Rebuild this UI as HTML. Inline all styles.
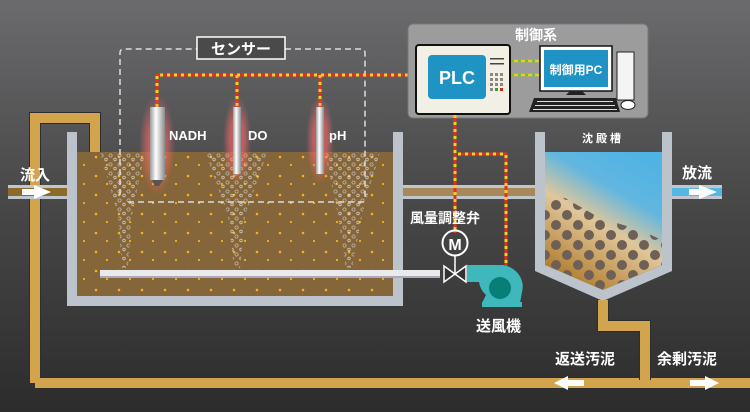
<!DOCTYPE html>
<html><head><meta charset="utf-8"><style>
html,body{margin:0;padding:0;width:750px;height:412px;overflow:hidden;background:#333}
svg{display:block}
text{font-family:"Liberation Sans","Noto Sans CJK JP",sans-serif;font-weight:bold;fill:#fff}
</style></head><body>
<svg width="750" height="412" viewBox="0 0 750 412" xmlns="http://www.w3.org/2000/svg">
<defs>
<linearGradient id="bg" x1="0" y1="0" x2="0" y2="1"><stop offset="0" stop-color="#6b6b6d"/><stop offset="0.45" stop-color="#4a4a4b"/><stop offset="1" stop-color="#2c2c2c"/></linearGradient>
<linearGradient id="clar" x1="0.8" y1="0" x2="0.3" y2="1"><stop offset="0" stop-color="#4fb3e3"/><stop offset="0.3" stop-color="#62b6e0"/><stop offset="0.55" stop-color="#e0c79a"/><stop offset="1" stop-color="#b07a2a"/></linearGradient>
<linearGradient id="rod" x1="0" y1="0" x2="1" y2="0"><stop offset="0" stop-color="#9a9a9a"/><stop offset="0.4" stop-color="#ffffff"/><stop offset="1" stop-color="#8a8a8a"/></linearGradient>
<radialGradient id="glow"><stop offset="0.5" stop-color="#ff6a6a" stop-opacity="0.6"/><stop offset="1" stop-color="#ff6a6a" stop-opacity="0"/></radialGradient>
<pattern id="dots" width="23" height="19" patternUnits="userSpaceOnUse"><circle cx="4" cy="5" r="1.3" fill="#f5b21c"/><circle cx="15" cy="13" r="1.1" fill="#f5b21c"/></pattern>
<pattern id="bub" width="9" height="9" patternUnits="userSpaceOnUse"><circle cx="2.5" cy="2.5" r="1.6" fill="none" stroke="#d8d8d8" stroke-width="0.8"/><circle cx="7" cy="6.5" r="1.3" fill="none" stroke="#eee" stroke-width="0.8"/></pattern>
<pattern id="sl" width="22" height="20" patternUnits="userSpaceOnUse"><circle cx="6" cy="5" r="5" fill="#6e6056"/><circle cx="17" cy="15" r="5" fill="#6e6056"/></pattern>
</defs>
<rect width="750" height="412" fill="url(#bg)"/>

<path d="M35 383 V118 H95 V177" fill="none" stroke="#2e2e2e" stroke-width="12"/>
<path d="M35 383 H750" stroke="#2e2e2e" stroke-width="12"/>
<path d="M35 383 V118 H95 V177" fill="none" stroke="#d3a44e" stroke-width="10"/>
<path d="M35 383 H750" stroke="#d3a44e" stroke-width="10"/>

<rect x="8" y="185" width="60" height="14" fill="#c0c6cc"/>
<rect x="8" y="188" width="60" height="8" fill="#8b6a2c"/>
<rect x="22" y="189" width="12" height="6" fill="#fff"/><polygon points="34,185 34,199 51,192" fill="#fff"/>
<text x="20" y="180" font-size="15">流入</text>

<rect x="77" y="152" width="316" height="144" fill="#85653a"/>
<rect x="77" y="152" width="316" height="144" fill="url(#dots)"/>
<polygon points="100,152 145,152 132,215 128,268 122,268 118,215" fill="url(#bub)" opacity="0.7"/>
<polygon points="205,152 268,152 245,215 240,268 234,268 228,215" fill="url(#bub)" opacity="0.7"/>
<polygon points="325,152 380,152 362,215 352,268 346,268 338,215" fill="url(#bub)" opacity="0.7"/>
<path d="M67 132 H77 V296 H393 V132 H403 V306 H67 Z" fill="#bcc3cb"/>
<rect x="100" y="270" width="340" height="8" fill="#e8eaec"/>
<rect x="100" y="276" width="340" height="2" fill="#aab"/>

<path d="M128 202 H365 M120 195 V53 Q120 49 124 49 H197 M285 49 H361 Q365 49 365 53 V200" fill="none" stroke="#ddd" stroke-width="1.5" stroke-dasharray="6,4"/>
<rect x="197" y="37" width="88" height="22" fill="#4a4a4b" stroke="#fff" stroke-width="1.5"/>
<text x="241" y="54" font-size="15" text-anchor="middle">センサー</text>

<g fill="none" stroke-width="3">
<path d="M157 107 V75 H415 M237 75 V107 M320 75 V107" stroke="#e53020"/>
<path d="M157 107 V75 H415 M237 75 V107 M320 75 V107" stroke="#f7d020" stroke-dasharray="3,4"/>
</g>
<ellipse cx="157" cy="145" rx="18" ry="50" fill="url(#glow)"/>
<ellipse cx="237" cy="140" rx="14" ry="44" fill="url(#glow)"/>
<ellipse cx="320" cy="140" rx="14" ry="44" fill="url(#glow)"/>
<rect x="150" y="107" width="15" height="73" fill="url(#rod)"/><polygon points="152,180 163,180 159,186 155,186" fill="#555"/>
<rect x="233" y="107" width="8" height="67" fill="url(#rod)"/>
<rect x="316" y="107" width="8" height="67" fill="url(#rod)"/>
<text x="169" y="140" font-size="13">NADH</text>
<text x="248" y="140" font-size="13">DO</text>
<text x="329" y="140" font-size="13">pH</text>

<rect x="403" y="185" width="132" height="14" fill="#c0c6cc"/>
<rect x="403" y="188" width="132" height="8" fill="#a8875a"/>

<rect x="408" y="24" width="240" height="94" rx="5" fill="#9c9c9c" stroke="#777"/>
<text x="536" y="40" font-size="14" text-anchor="middle">制御系</text>
<rect x="416" y="45" width="94" height="69" rx="3" fill="#f2efe4" stroke="#111" stroke-width="2"/>
<rect x="428" y="55" width="58" height="44" rx="4" fill="#1f93c4"/>
<text x="457" y="84" font-size="18" text-anchor="middle">PLC</text>
<rect x="490" y="58" width="14" height="1.5" fill="#444"/><rect x="490" y="63" width="14" height="1.5" fill="#444"/>
<g fill="#888"><rect x="490" y="73" width="3" height="3"/><rect x="495" y="73" width="3" height="3"/><rect x="500" y="73" width="3" height="3"/><rect x="490" y="78" width="3" height="3"/><rect x="495" y="78" width="3" height="3"/><rect x="500" y="78" width="3" height="3"/><rect x="490" y="83" width="3" height="3"/><rect x="495" y="83" width="3" height="3"/><rect x="500" y="83" width="3" height="3"/><rect x="490" y="88" width="3" height="3"/></g>
<rect x="495" y="88" width="3" height="3" fill="#2a2"/><rect x="500" y="88" width="3" height="3" fill="#d22"/>
<g stroke-width="2.5"><path d="M511 61 H539 M511 75 H539" stroke="#e8d020"/><path d="M511 61 H539 M511 75 H539" stroke="#6cc040" stroke-dasharray="3,4"/></g>
<rect x="540" y="46" width="72" height="45" fill="#fff" stroke="#111" stroke-width="1.5"/>
<rect x="544" y="50" width="64" height="37" fill="#1f93c4"/>
<text x="576" y="74" font-size="12" text-anchor="middle">制御用PC</text>
<path d="M570 91 L566 95 H586 L582 91 Z" fill="#222"/>
<rect x="617" y="52" width="17" height="48" fill="#f4f4f4" stroke="#222"/>
<polygon points="534,98 616,98 620,112 529,112" fill="#222"/>
<g fill="#ddd"><rect x="537" y="101" width="76" height="1"/><rect x="535" y="105" width="80" height="1"/><rect x="533" y="109" width="84" height="1"/></g>
<ellipse cx="628" cy="105" rx="7" ry="4.5" fill="#fff" stroke="#222"/>

<g fill="none" stroke-width="3">
<path d="M455 115 V233 M458 154 H506 V267" stroke="#e53020"/>
<path d="M455 115 V233 M458 154 H506 V267" stroke="#f7d020" stroke-dasharray="3,4"/>
</g>
<text x="410" y="223" font-size="14">風量調整弁</text>
<circle cx="455" cy="243" r="12.5" fill="none" stroke="#fff" stroke-width="2"/>
<text x="455" y="250" font-size="16" font-weight="normal" text-anchor="middle">M</text>
<path d="M455 256 V274 M444 266 L466 282 V266 L444 282 Z" fill="#333" stroke="#fff" stroke-width="1.5"/>
<path d="M467 265 H503 A24 22 0 0 1 522 292 L520 303 H482 L486 295 A24 22 0 0 1 479 282 H467 Z" fill="#3fb8bb"/>
<rect x="482" y="302" width="40" height="5" fill="#3fb8bb"/>
<circle cx="500" cy="288" r="11" fill="#087e78"/>
<text x="476" y="331" font-size="15">送風機</text>

<polygon points="545,152 662,152 662,265 603,290 545,265" fill="url(#clar)"/>
<clipPath id="cc"><polygon points="545,152 662,152 662,265 603,290 545,265"/></clipPath>
<g clip-path="url(#cc)"><polygon points="545,200 565,198 600,218 640,230 662,240 662,300 545,300" fill="url(#sl)"/></g>
<path d="M535 132 H545 V265 L603 290 L662 265 V132 H672 V271 L603 301 L535 271 Z" fill="#bcc3cb"/>
<text x="603" y="142" font-size="11" text-anchor="middle" letter-spacing="3">沈殿槽</text>
<rect x="672" y="185" width="50" height="14" fill="#c0c6cc"/>
<rect x="672" y="188" width="50" height="8" fill="#56b6e4"/>
<rect x="689" y="189" width="10" height="6" fill="#fff"/><polygon points="699,185 699,199 717,192" fill="#fff"/>
<text x="682" y="178" font-size="15">放流</text>

<path d="M603 300 V326 H645 V380" fill="none" stroke="#2e2e2e" stroke-width="12"/>
<path d="M603 300 V326 H645 V383" fill="none" stroke="#d3a44e" stroke-width="10"/>
<text x="555" y="364" font-size="15">返送汚泥</text>
<text x="657" y="364" font-size="15">余剰汚泥</text>
<rect x="568" y="380" width="16" height="6" fill="#fff"/><polygon points="568,376 568,390 554,383" fill="#fff"/>
<rect x="690" y="380" width="15" height="6" fill="#fff"/><polygon points="705,376 705,390 719,383" fill="#fff"/>
</svg>
</body></html>
